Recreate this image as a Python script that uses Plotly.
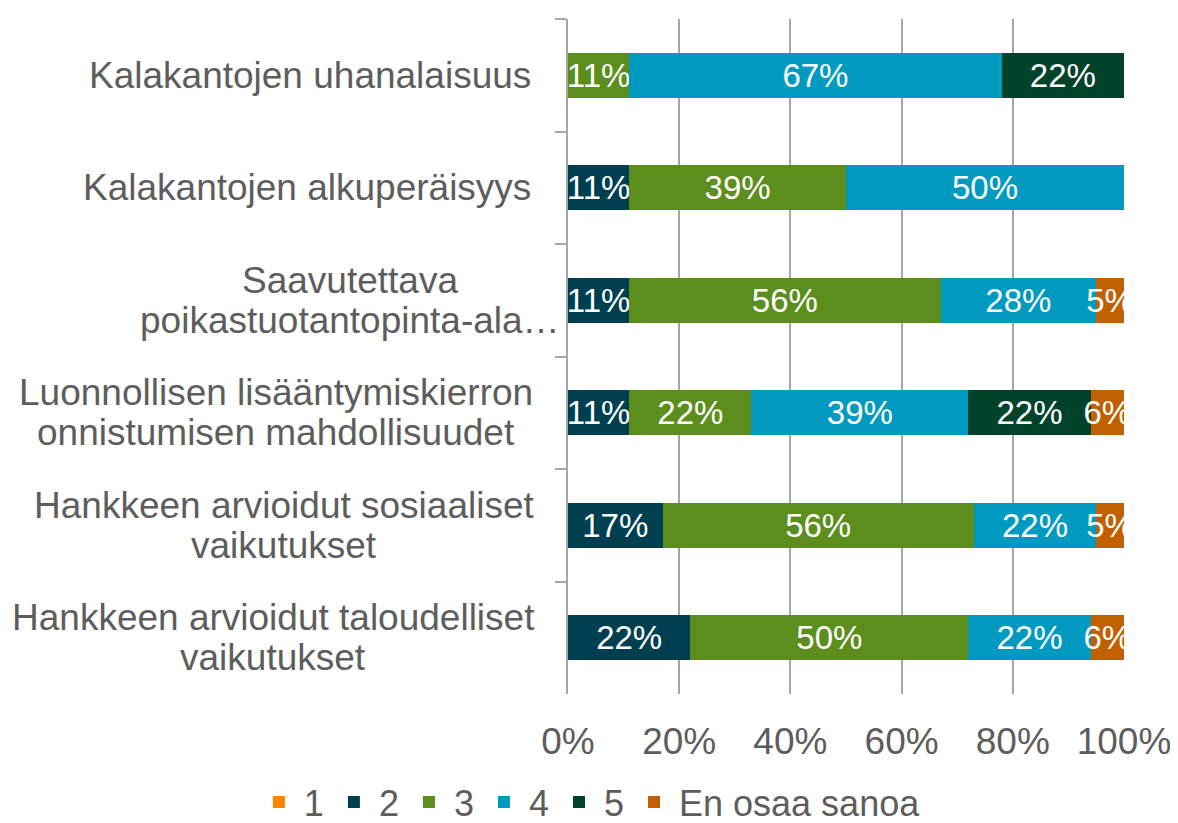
import plotly.graph_objects as go

categories = [
    "Kalakantojen uhanalaisuus",
    "Kalakantojen alkuperäisyys",
    "Saavutettava poikastuotantopinta-ala",
    "Luonnollisen lisääntymiskierron onnistumisen mahdollisuudet",
    "Hankkeen arvioidut sosiaaliset vaikutukset",
    "Hankkeen arvioidut taloudelliset vaikutukset",
]
label_lines = [
    ["Kalakantojen uhanalaisuus"],
    ["Kalakantojen alkuperäisyys"],
    ["Saavutettava", "poikastuotantopinta-ala…"],
    ["Luonnollisen lisääntymiskierron", "onnistumisen mahdollisuudet"],
    ["Hankkeen arvioidut sosiaaliset", "vaikutukset"],
    ["Hankkeen arvioidut taloudelliset", "vaikutukset"],
]
series_names = ["1", "2", "3", "4", "5", "En osaa sanoa"]
s1 = [0, 0, 0, 0, 0, 0]
s2 = [0, 11, 11, 11, 17, 22]
s3 = [11, 39, 56, 22, 56, 50]
s4 = [67, 50, 28, 39, 22, 22]
s5 = [22, 0, 0, 22, 0, 0]
s_eos = [0, 0, 5, 6, 5, 6]
x_ticks = [0, 20, 40, 60, 80, 100]

colors = ["#FF8200", "#003F4F", "#5B8E1D", "#009AC0", "#00432A", "#C06000"]
TEXT = "#5d5d5d"
GRID = "#A6A6A6"
FONT = "Liberation Sans, Arial, sans-serif"

# page body has an 8px margin; the figure is offset accordingly
W, H = 1170, 815
ML, MR, MT, MB = 560, 54, 11, 129

fig = go.Figure()
for name, vals, col in zip(series_names, [s1, s2, s3, s4, s5, s_eos], colors):
    fig.add_trace(go.Bar(
        y=categories, x=vals, name=name, orientation="h",
        marker=dict(color=col, line=dict(width=0)),
        text=[f"{v}%" if v > 0 else "" for v in vals],
        textposition="inside", insidetextanchor="middle", textangle=0,
        textfont=dict(color="white", size=33, family=FONT),
        cliponaxis=True,
    ))

# category labels (centered lines, as in the original)
centers = [None, None, 350, 276, 284, 273]
LBL = 37
for cat, lines, cx in zip(categories, label_lines, centers):
    if len(lines) == 1:
        fig.add_annotation(x=0, xref="paper", y=cat, yref="y", text=lines[0],
                           xanchor="right", yanchor="middle", xshift=-35,
                           showarrow=False, font=dict(size=LBL, color=TEXT, family=FONT))
    else:
        for i, ln in enumerate(lines):
            fig.add_annotation(x=0, xref="paper", y=cat, yref="y", text=ln,
                               xanchor="center", yanchor="middle",
                               xshift=cx - 568, yshift=20 - 40 * i,
                               showarrow=False, font=dict(size=LBL, color=TEXT, family=FONT))

fig.update_layout(
    barmode="stack", bargap=0.6,
    width=W, height=H,
    margin=dict(l=ML, r=MR, t=MT, b=MB, autoexpand=False),
    plot_bgcolor="white", paper_bgcolor="white",
    font=dict(family=FONT, color=TEXT, size=36),
    uniformtext=dict(minsize=30, mode="show"),
    legend=dict(orientation="h", xref="paper", x=-0.565, xanchor="left",
                yref="paper", y=-0.16, yanchor="middle",
                bgcolor="rgba(0,0,0,0)",
                font=dict(size=36, color=TEXT, family=FONT),
                traceorder="normal", itemwidth=40),
    showlegend=True,
)
fig.update_xaxes(range=[0, 100], tickvals=x_ticks, ticktext=[f"{t}%" for t in x_ticks],
                 showgrid=True, gridcolor=GRID, gridwidth=1.5, zeroline=False,
                 showline=False, ticks="", ticklabelstandoff=22,
                 tickfont=dict(size=37, color=TEXT, family=FONT))
fig.update_yaxes(autorange="reversed", showticklabels=False, showline=True,
                 linecolor=GRID, linewidth=1.5, ticks="outside", tickson="boundaries",
                 ticklen=11, tickcolor=GRID, tickwidth=1.5, showgrid=False)

fig.write_html("out.html")
